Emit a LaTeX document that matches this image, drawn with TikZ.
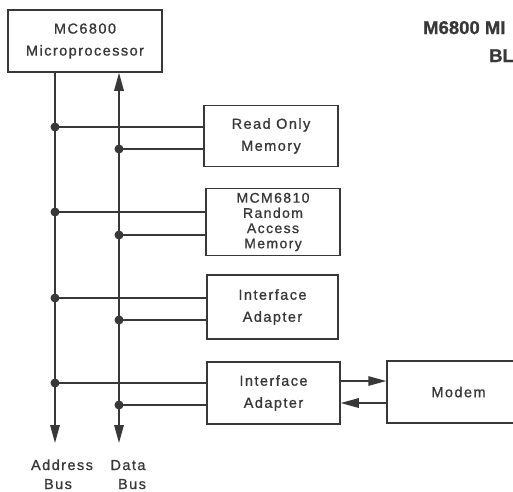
\documentclass[tikz,border=0pt]{standalone}
\usepackage{fontspec}
\setmainfont{Liberation Sans}[LetterSpace=10, FakeBold=0.9]
\usetikzlibrary{arrows.meta}
\definecolor{ink}{rgb}{0.22,0.22,0.22}
\begin{document}
\begin{tikzpicture}[x=1pt,y=-1pt,
  box/.style={draw=ink, line width=1.5pt, inner sep=0pt, align=center, text=ink,
    font=\fontsize{14.5}{22}\selectfont},
  ramtxt/.style={font=\fontsize{14}{15.2}\selectfont},
  wire/.style={draw=ink, line width=1.5pt},
  tip/.style={-{Triangle[length=18pt,width=9.5pt]}},
  twotip/.style={{Triangle[length=18pt,width=9.5pt]}-{Triangle[length=18pt,width=9.5pt]}},
  lbl/.style={text=ink, inner sep=0pt, font=\fontsize{14.5}{22}\selectfont},
  ttl/.style={text=ink, inner sep=0pt, font=\fontsize{18.5}{20}\bfseries\addfontfeatures{LetterSpace=0}},
  dot/.style={fill=ink}]
\useasboundingbox (0,0) rectangle (513,491);
\clip (0,0) rectangle (513,491);
\fill[white] (0,0) rectangle (513,491);

\node[box, minimum width=154pt, minimum height=62pt] (cpu) at (85,41) {MC6800\\Microprocessor};
\node[box, minimum width=134pt, minimum height=61pt] (rom) at (271,136) {Read Only\\Memory};
\node[box, ramtxt, minimum width=134pt, minimum height=67pt] (ram) at (273,222) {MCM6810\\Random\\Access\\Memory};
\node[box, minimum width=131pt, minimum height=64pt] (ia1) at (272.5,307) {Interface\\Adapter};
\node[box, minimum width=133pt, minimum height=62pt] (ia2) at (273.5,393) {Interface\\Adapter};
\node[box, minimum width=143pt, minimum height=62pt] (modem) at (458.5,392) {Modem};

\node[ttl, anchor=base west] (t1) at (423,34) {M6800 MI};
\node[ttl, anchor=base west] (t2) at (489,62) {BL};

\coordinate (ax) at (55,0);
\coordinate (dx) at (119,0);
\coordinate (abot) at (55,443);
\coordinate (dbot) at (119,443);

\draw[wire, tip] (cpu.south -| ax) -- (abot);
\draw[wire, twotip] (cpu.south -| dx) -- (dbot);

\coordinate (a1) at (55,127);
\coordinate (d1) at (119,149);
\coordinate (a2) at (55,212);
\coordinate (d2) at (119,235);
\coordinate (a3) at (55,298);
\coordinate (d3) at (119,320);
\coordinate (a4) at (55,383);
\coordinate (d4) at (119,405);

\foreach \p/\b in {a1/rom, d1/rom, a2/ram, d2/ram, a3/ia1, d3/ia1, a4/ia2, d4/ia2} {
  \draw[wire] (\p) -- (\p -| \b.west);
  \fill[dot] (\p) circle (4.5pt);
}

\coordinate (m1) at (0,381);
\coordinate (m2) at (0,403);
\draw[wire, tip] (ia2.east |- m1) -- (modem.west |- m1);
\draw[wire, tip] (modem.west |- m2) -- (ia2.east |- m2);

\node[lbl, anchor=base] (al1) at (62,470) {Address};
\node[lbl, anchor=base] (al2) at (58,489) {Bus};
\node[lbl, anchor=base] (dl1) at (128,470) {Data};
\node[lbl, anchor=base] (dl2) at (132,489) {Bus};
\end{tikzpicture}
\end{document}
